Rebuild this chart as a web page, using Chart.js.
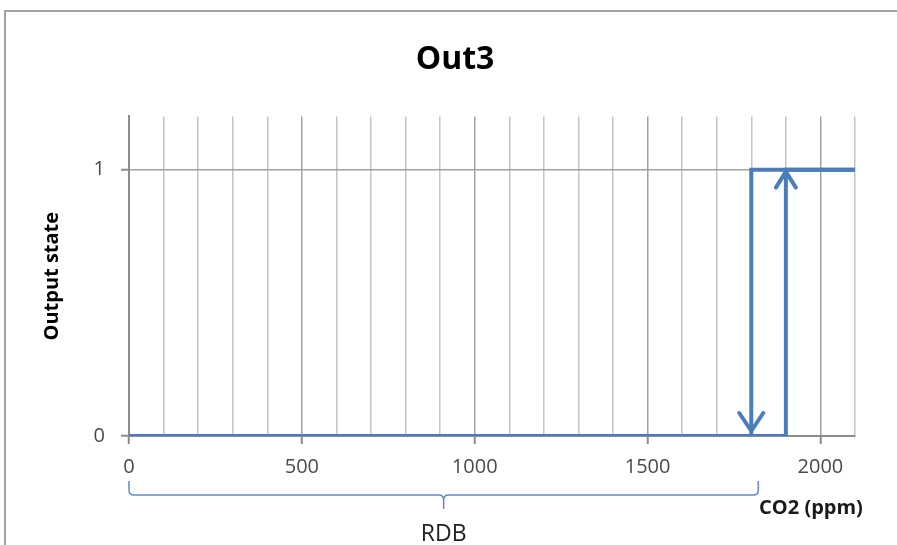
<!DOCTYPE html>
<html>
<head>
<meta charset="utf-8">
<script src="https://cdn.jsdelivr.net/npm/chart.js@4/dist/chart.umd.min.js"></script>
<style>
  html, body { margin: 0; padding: 0; background: #fff; }
  canvas { display: block; }
</style>
</head>
<body>
<canvas id="out3Chart" width="897" height="545"></canvas>
<script>
// Hysteresis of output 3 (rises at 1900 ppm, drops back at 1800 ppm)
const risingX = [0, 1900, 1900, 2100];
const risingY = [0, 0, 1, 1];
const fallingX = [2100, 1800, 1800];
const fallingY = [1, 1, 0];
const downArrowX = 1800;
const upArrowX = 1900;
const yTickValues = [0, 1];
const xLabelValues = [0, 500, 1000, 1500, 2000];
const braceRange = [0, 1800];
const braceLabel = 'RDB';
const xUnitLabel = 'CO2 (ppm)';

const BLUE = '#4a7ebb';
const FONT = "'Open Sans', 'Liberation Sans', sans-serif";

const toPoints = (xs, ys) => xs.map((x, i) => ({ x: x, y: ys[i] }));

// arrows, brace, frame and unit label
const extrasPlugin = {
    id: 'extras',
    afterDatasetsDraw(chart) {
        const { ctx, scales: { x, y } } = chart;
        ctx.save();
        ctx.strokeStyle = BLUE;
        ctx.lineWidth = 4;
        ctx.lineCap = 'round';
        ctx.lineJoin = 'round';
        // down arrow at the falling edge
        let px = x.getPixelForValue(downArrowX), py = y.getPixelForValue(0) - 5;
        ctx.beginPath();
        ctx.moveTo(px - 12, py - 18);
        ctx.lineTo(px, py);
        ctx.lineTo(px + 12, py - 18);
        ctx.stroke();
        // up arrow at the rising edge
        px = x.getPixelForValue(upArrowX); py = y.getPixelForValue(1) + 2;
        ctx.beginPath();
        ctx.moveTo(px - 10, py + 16);
        ctx.lineTo(px, py);
        ctx.lineTo(px + 10, py + 16);
        ctx.stroke();
        ctx.restore();
    },
    afterDraw(chart) {
        const { ctx, scales: { x } } = chart;
        ctx.save();
        // outer frame (only top and left visible)
        ctx.strokeStyle = '#a3a3a3';
        ctx.lineWidth = 2;
        ctx.beginPath();
        ctx.moveTo(5, 545);
        ctx.lineTo(5, 11);
        ctx.lineTo(897, 11);
        ctx.stroke();

        // brace under the axis
        const x0 = x.getPixelForValue(braceRange[0]);
        const x1 = x.getPixelForValue(braceRange[1]) + 7;
        const xm = (x0 + x1) / 2;
        const top = 481, mid = 495, r = 5;
        ctx.strokeStyle = '#5f8ac4';
        ctx.lineWidth = 1.5;
        ctx.beginPath();
        ctx.moveTo(x0, top);
        ctx.lineTo(x0, mid - r);
        ctx.quadraticCurveTo(x0, mid, x0 + r, mid);
        ctx.lineTo(xm - r, mid);
        ctx.quadraticCurveTo(xm, mid, xm, mid + r);
        ctx.lineTo(xm, 509);
        ctx.moveTo(xm, mid + r);
        ctx.quadraticCurveTo(xm, mid, xm + r, mid);
        ctx.lineTo(x1 - r, mid);
        ctx.quadraticCurveTo(x1, mid, x1, mid - r);
        ctx.lineTo(x1, top);
        ctx.stroke();

        ctx.fillStyle = '#222';
        ctx.textAlign = 'center';
        ctx.textBaseline = 'middle';
        ctx.font = `23px ${FONT}`;
        ctx.fillText(braceLabel, xm, 534);
        ctx.font = `bold 20px ${FONT}`;
        ctx.fillStyle = '#1a1a1a';
        ctx.fillText(xUnitLabel, 811, 508);
        ctx.restore();
    }
};

new Chart(document.getElementById('out3Chart'), {
    type: 'scatter',
    data: {
        datasets: [
            { label: 'rising', data: toPoints(risingX, risingY), showLine: true, borderColor: BLUE, borderWidth: 4, pointRadius: 0, fill: false, tension: 0 },
            { label: 'falling', data: toPoints(fallingX, fallingY), showLine: true, borderColor: BLUE, borderWidth: 4, pointRadius: 0, fill: false, tension: 0 }
        ]
    },
    options: {
        responsive: false,
        animation: false,
        layout: { padding: { left: 13, right: 0, top: 0, bottom: 0 } },
        plugins: {
            legend: { display: false },
            tooltip: { enabled: false },
            title: {
                display: true,
                text: 'Out3',
                color: '#000',
                font: { family: FONT, size: 32, weight: 'bold' },
                padding: { top: 41, bottom: 37 }
            }
        },
        scales: {
            x: {
                type: 'linear',
                min: 0,
                max: 2100,
                afterFit: s => { s.height = 109; },
                border: { color: '#8c8c8c', width: 2 },
                grid: {
                    color: c => (c.tick && c.tick.value % 500 === 0) ? '#a2a2a2' : '#c4c4c4',
                    lineWidth: 1.5,
                    tickLength: 8,
                    tickColor: c => (c.tick && xLabelValues.includes(c.tick.value)) ? '#8c8c8c' : 'rgba(0,0,0,0)',
                    tickWidth: 2
                },
                ticks: {
                    stepSize: 100,
                    autoSkip: false,
                    maxRotation: 0,
                    padding: 11,
                    color: '#4a4a4a',
                    font: { family: FONT, size: 20 },
                    callback: v => xLabelValues.includes(v) ? String(v) : ''
                }
            },
            y: {
                min: 0,
                max: 1.2,
                afterFit: s => { s.width = 116; },
                afterBuildTicks: s => { s.ticks = yTickValues.map(v => ({ value: v })); },
                border: { color: '#8c8c8c', width: 2 },
                grid: { color: '#a2a2a2', lineWidth: 1.5, tickLength: 8, tickColor: '#8c8c8c', tickWidth: 2 },
                ticks: {
                    padding: 16,
                    color: '#4a4a4a',
                    font: { family: FONT, size: 20 }
                },
                title: {
                    display: true,
                    text: 'Output state',
                    color: '#000',
                    font: { family: FONT, size: 20, weight: 'bold' },
                    padding: { top: 27, bottom: 0 }
                }
            },
            // empty right-hand spacer so the plot ends at 2100 before the edge
            spacer: {
                type: 'linear',
                position: 'right',
                afterFit: s => { s.width = 42; },
                grid: { display: false, drawTicks: false },
                border: { display: false },
                ticks: { display: false }
            }
        }
    },
    plugins: [extrasPlugin]
});
</script>
</body>
</html>
